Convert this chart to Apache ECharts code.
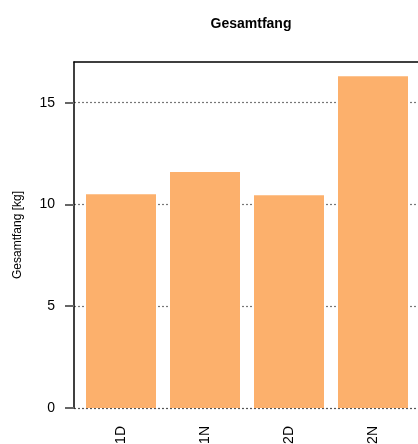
<!DOCTYPE html>
<html>
<head>
<meta charset="utf-8">
<script src="https://cdn.jsdelivr.net/npm/echarts@6/dist/echarts.min.js"></script>
<style>
  html, body { margin: 0; padding: 0; background: #fff; }
  #chart { width: 418px; height: 444px; }
</style>
</head>
<body>
<div id="chart"></div>
<script>
// Gesamtfang per Durchgang (Tag / Nacht)
const categories = ['1D', '1N', '2D', '2N'];
const catchKg = [10.5, 11.6, 10.45, 16.3];
const yTicks = [0, 5, 10, 15];

const FONT = 'Liberation Sans, Arial, sans-serif';
const chart = echarts.init(document.getElementById('chart'), null, { renderer: 'canvas' });

chart.setOption({
  backgroundColor: '#ffffff',
  animation: false,
  title: {
    text: 'Gesamtfang',
    left: 246,
    top: 12,
    textAlign: 'center',
    textStyle: { fontFamily: FONT, fontSize: 14, fontWeight: 'bold', color: '#000' }
  },
  grid: [
    // frame: y axis, dotted guides, top border
    { left: 74, right: 0, top: 62, bottom: 36, containLabel: false, outerBoundsMode: 'none' },
    // bars
    { left: 79, width: 336, top: 62, bottom: 36, containLabel: false, outerBoundsMode: 'none' }
  ],
  xAxis: [
    {
      gridIndex: 0, type: 'value', position: 'top', min: 0, max: 1,
      axisLine: { show: true, onZero: false, lineStyle: { color: '#000', width: 1.5 } },
      axisTick: { show: false }, axisLabel: { show: false }, splitLine: { show: false }
    },
    {
      gridIndex: 1, type: 'category', data: categories,
      axisLine: { show: false }, axisTick: { show: false },
      axisLabel: {
        rotate: 90, margin: 18, fontFamily: FONT, fontSize: 14, color: '#000'
      }
    }
  ],
  yAxis: [
    {
      gridIndex: 0, type: 'value', min: 0, max: 17, interval: 5,
      name: 'Gesamtfang [kg]', nameLocation: 'middle', nameGap: 50,
      nameTextStyle: { fontFamily: FONT, fontSize: 12, color: '#000' },
      axisLine: { show: true, lineStyle: { color: '#000', width: 1.5 } },
      axisTick: { show: true, length: 9, customValues: yTicks, lineStyle: { color: '#666', width: 2 } },
      axisLabel: {
        margin: 19, fontFamily: FONT, fontSize: 14, color: '#000',
        customValues: yTicks
      },
      splitLine: {
        show: true,
        lineStyle: { color: ['#555', '#777', '#777', '#777', 'rgba(0,0,0,0)'], type: [2, 2], width: 1.2 }
      }
    },
    {
      gridIndex: 1, type: 'value', min: 0, max: 17, show: false,
      splitLine: { show: false }
    }
  ],
  series: [{
    type: 'bar',
    xAxisIndex: 1, yAxisIndex: 1,
    data: catchKg,
    barCategoryGap: '16.67%',
    itemStyle: { color: '#FCB06C' }
  }]
});
</script>
</body>
</html>
